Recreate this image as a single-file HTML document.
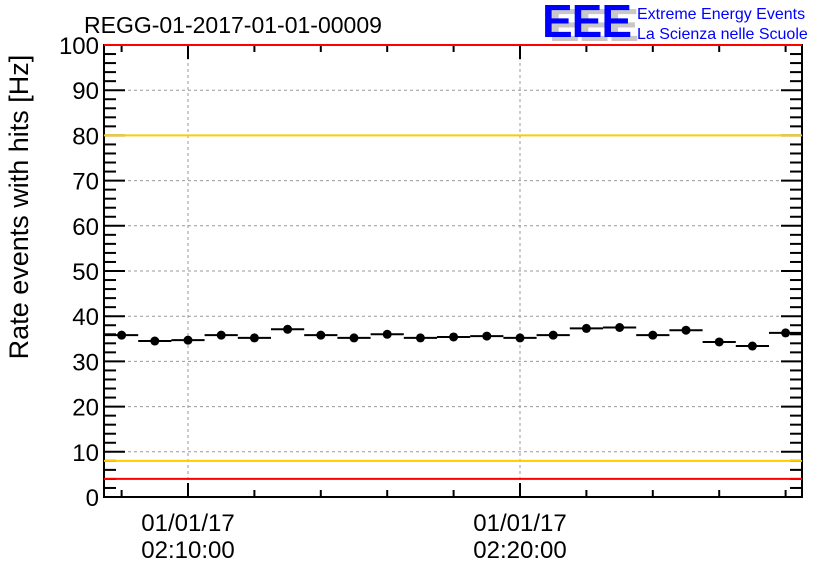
<!DOCTYPE html>
<html><head><meta charset="utf-8"><style>
body{margin:0;background:#fff;}
svg{display:block;font-family:"Liberation Sans",sans-serif;}
</style></head><body>
<svg id="c" width="836" height="572" viewBox="0 0 836 572">
<rect x="0" y="0" width="836" height="572" fill="#fff"/>
<text x="84" y="33" font-size="23" fill="#000">REGG-01-2017-01-01-00009</text>
<g>
<text x="549" y="41" font-size="46" font-weight="bold" fill="#c8c8c8" letter-spacing="-1">EEE</text>
<text x="542" y="37" font-size="46" font-weight="bold" fill="#0000ff" letter-spacing="-1">EEE</text>
<text x="637" y="19" font-size="16" fill="#0000ff">Extreme Energy Events</text>
<text x="637" y="39" font-size="16" fill="#0000ff">La Scienza nelle Scuole</text>
</g>
<text transform="translate(28,207) rotate(-90)" text-anchor="middle" font-size="27" fill="#000">Rate events with hits [Hz]</text>
<g id="grid"></g><g id="axes"></g><g id="lim"></g><g id="marks"></g>
</svg>
<script>
const binMinutes=[8,9,10,11,12,13,14,15,16,17,18,19,20,21,22,23,24,25,26,27,28];
const rates=[35.8,34.5,34.7,35.8,35.2,37.1,35.8,35.2,36.0,35.2,35.4,35.6,35.2,35.8,37.3,37.5,35.8,36.9,34.3,33.4,36.3];
const yTicks=[0,10,20,30,40,50,60,70,80,90,100];
const xMajorMinutes=[10,20];
const xTickLabels=["01/01/17|02:10:00","01/01/17|02:20:00"];
const redLimits=[4,100];
const orangeLimits=[8,80];
const L=104,R=802,T=45,B=497;
const ns="http://www.w3.org/2000/svg";
const xs=t=>188+(t-10)*33.2;
const ys=v=>B-(v/100)*(B-T);
function mk(tag,attrs,parent){const e=document.createElementNS(ns,tag);for(const k in attrs)e.setAttribute(k,attrs[k]);parent.appendChild(e);return e;}
const g=document.getElementById('grid'),a=document.getElementById('axes'),lim=document.getElementById('lim'),m=document.getElementById('marks');
yTicks.forEach(v=>{if(v>0&&v<100){const l=mk('line',{x1:L,x2:R,y1:ys(v),y2:ys(v),stroke:'#999','stroke-dasharray':'3,3','stroke-width':1},g);

}});
xMajorMinutes.forEach(t=>{const l=mk('line',{x1:xs(t),x2:xs(t),y1:T,y2:B,stroke:'#999','stroke-dasharray':'3,3','stroke-width':1},g);

});
const f=mk('rect',{x:L,y:T,width:R-L,height:B-T,fill:'none',stroke:'#000','stroke-width':2},a);


redLimits.forEach(v=>{const l=mk('line',{x1:L,x2:R,y1:ys(v),y2:ys(v),stroke:'#ff0000','stroke-width':2},lim);

});
orangeLimits.forEach(v=>{const l=mk('line',{x1:L,x2:R,y1:ys(v),y2:ys(v),stroke:'#ffcc00','stroke-width':2},lim);

});
for(let v=0;v<=100;v+=2){const len=(v%10===0)?21:12;
mk('line',{x1:L,x2:L+len,y1:ys(v),y2:ys(v),stroke:'#000','stroke-width':2},a);
mk('line',{x1:R-len,x2:R,y1:ys(v),y2:ys(v),stroke:'#000','stroke-width':2},a);}
yTicks.forEach(v=>{const t=mk('text',{x:L-5,y:ys(v)+9,'text-anchor':'end','font-size':24},a);t.textContent=v;

});
for(let t=8;t<=28;t+=2){const len=(t%10===0)?14:7;
mk('line',{x1:xs(t),x2:xs(t),y1:B-len,y2:B,stroke:'#000','stroke-width':2},a);
mk('line',{x1:xs(t),x2:xs(t),y1:T,y2:T+len,stroke:'#000','stroke-width':2},a);}
xMajorMinutes.forEach((t,i)=>{const parts=xTickLabels[i].split('|');
parts.forEach((p,j)=>{const tx=mk('text',{x:xs(t),y:531+j*27,'text-anchor':'middle','font-size':24},a);tx.textContent=p;

});});
binMinutes.forEach((t,i)=>{const cx=xs(t),cy=ys(rates[i]);
const ln=mk('line',{x1:cx-16.6,x2:cx+16.6,y1:cy,y2:cy,stroke:'#000','stroke-width':2},m);


const c=mk('circle',{cx:cx,cy:cy,r:4.5,fill:'#000'},m);

});
</script>
</body></html>
